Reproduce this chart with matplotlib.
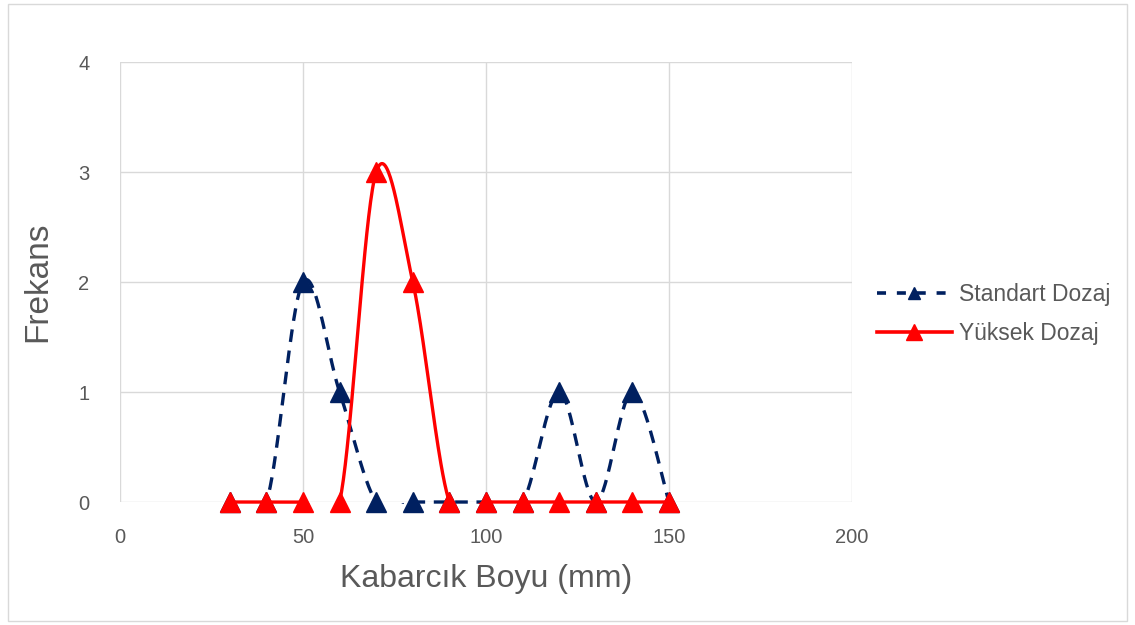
import numpy as np
import matplotlib
matplotlib.use("Agg")
import matplotlib.pyplot as plt
from matplotlib.patches import Rectangle

plt.rcParams['font.family'] = ['Liberation Sans', 'DejaVu Sans']

x_vals = [30, 40, 50, 60, 70, 80, 90, 100, 110, 120, 130, 140, 150]
standart = [0, 0, 2, 1, 0, 0, 0, 0, 0, 1, 0, 1, 0]
yuksek = [0, 0, 0, 0, 3, 2, 0, 0, 0, 0, 0, 0, 0]
series_names = ["Standart Dozaj", "Yüksek Dozaj"]
x_ticks = [0, 50, 100, 150, 200]
y_ticks = [0, 1, 2, 3, 4]


def smooth(xs, ys, n=40):
    p = np.column_stack([xs, ys]).astype(float)
    m = len(p)
    out = []
    for i in range(m - 1):
        p0 = p[i - 1] if i > 0 else p[i]
        p1 = p[i]
        p2 = p[i + 1]
        p3 = p[i + 2] if i + 2 < m else p[i + 1]
        c1 = p1 + (p2 - p0) / 6.0
        c2 = p2 - (p3 - p1) / 6.0
        t = np.linspace(0, 1, n)[:, None]
        seg = ((1 - t) ** 3) * p1 + 3 * ((1 - t) ** 2) * t * c1 + 3 * (1 - t) * t ** 2 * c2 + t ** 3 * p2
        if i > 0:
            seg = seg[1:]
        out.append(seg)
    out = np.vstack(out)
    return out[:, 0], out[:, 1]


W, H = 1135, 625
fig = plt.figure(figsize=(W / 100, H / 100), dpi=100)
fig.patches.append(Rectangle((8 / W, 4 / H), 1119 / W, 617 / H, transform=fig.transFigure,
                             fill=False, edgecolor='#d9d9d9', linewidth=1))
ax = fig.add_axes([120 / W, 1 - 502 / H, (852 - 120) / W, (502 - 62) / H])

navy = '#002060'
red = '#ff0000'
dash = (0, (3.8, 2.6))
clip_rect = Rectangle((-0.01, -0.0045), 1.02, 1.01, transform=ax.transAxes,
                      facecolor='none', edgecolor='none')
ax.add_patch(clip_rect)

sx, sy = smooth(x_vals, standart)
l1, = ax.plot(sx, sy, color=navy, lw=2.4, ls=dash, zorder=3)
l1.set_clip_path(clip_rect)
ax.plot(x_vals, standart, ls='none', marker='^', ms=14, color=navy, zorder=4, clip_on=False)
rx, ry = smooth(x_vals, yuksek)
l2, = ax.plot(rx, ry, color=red, lw=2.4, zorder=5)
l2.set_clip_path(clip_rect)
ax.plot(x_vals, yuksek, ls='none', marker='^', ms=14, color=red, zorder=6, clip_on=False)

# legend proxies
h1, = ax.plot([], [], color=navy, lw=2.6, ls=(0, (2.5, 3.0)), marker='^', ms=9)
h2, = ax.plot([], [], color=red, lw=2.6, marker='^', ms=12)
leg = fig.legend([h1, h2], series_names, loc='center left', bbox_to_anchor=(856 / W, 1 - 314 / H),
                 frameon=False, fontsize=16.5, handlelength=3.3, handletextpad=0.3,
                 labelspacing=0.7, labelcolor='#595959')

ax.set_xlim(0, 200)
ax.set_ylim(0, 4)
ax.set_xticks(x_ticks)
ax.set_yticks(y_ticks)
ax.grid(True, color='#d9d9d9', lw=1)
ax.set_axisbelow(True)
for s in ax.spines.values():
    s.set_visible(False)
ax.tick_params(length=0, labelsize=14.5, colors='#595959')
ax.tick_params(axis='x', pad=19)
ax.tick_params(axis='y', pad=22)
ax.set_xlabel('Kabarcık Boyu (mm)', fontsize=23, color='#595959', labelpad=12)
ax.set_ylabel('Frekans', fontsize=24, color='#595959', labelpad=18)

fig.savefig('out.png', dpi=100)
